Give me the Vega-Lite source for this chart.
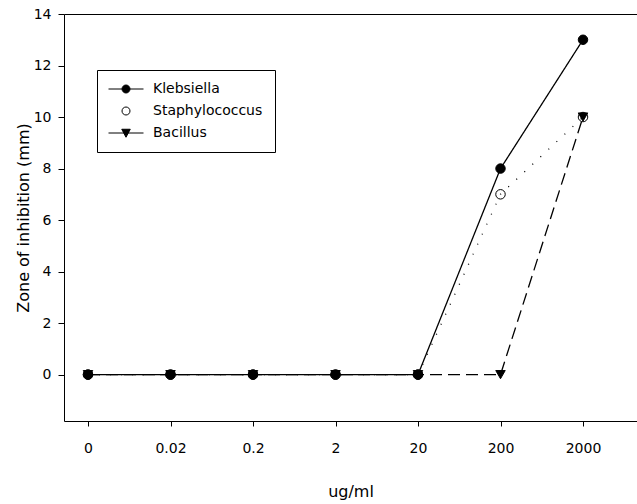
{
  "$schema": "https://vega.github.io/schema/vega-lite/v6.json",
  "width": 573,
  "height": 407,
  "autosize": {"type": "none"},
  "padding": {"left": 64, "top": 14, "right": 0, "bottom": 83},
  "background": "white",
  "config": {
    "view": {"stroke": null},
    "font": "DejaVu Sans",
    "axis": {
      "domainColor": "black",
      "tickColor": "black",
      "labelColor": "black",
      "titleColor": "black",
      "grid": false,
      "labelFontSize": 14,
      "titleFontSize": 16,
      "titleFontWeight": "normal",
      "domainWidth": 1,
      "tickWidth": 1
    },
    "legend": {
      "orient": "none",
      "legendX": 33,
      "legendY": 56,
      "padding": 12,
      "strokeColor": "black",
      "fillColor": "white",
      "labelFontSize": 14,
      "labelColor": "black",
      "labelOffset": 20,
      "symbolOffset": 10,
      "rowPadding": 8,
      "symbolSize": 100,
      "symbolStrokeColor": "black",
      "symbolStrokeWidth": 1,
      "symbolOpacity": 1
    }
  },
  "data": {
    "values": [
      {"series": "Klebsiella", "conc": "0", "zone": 0},
      {"series": "Klebsiella", "conc": "0.02", "zone": 0},
      {"series": "Klebsiella", "conc": "0.2", "zone": 0},
      {"series": "Klebsiella", "conc": "2", "zone": 0},
      {"series": "Klebsiella", "conc": "20", "zone": 0},
      {"series": "Klebsiella", "conc": "200", "zone": 8},
      {"series": "Klebsiella", "conc": "2000", "zone": 13},
      {"series": "Staphylococcus", "conc": "0", "zone": 0},
      {"series": "Staphylococcus", "conc": "0.02", "zone": 0},
      {"series": "Staphylococcus", "conc": "0.2", "zone": 0},
      {"series": "Staphylococcus", "conc": "2", "zone": 0},
      {"series": "Staphylococcus", "conc": "20", "zone": 0},
      {"series": "Staphylococcus", "conc": "200", "zone": 7},
      {"series": "Staphylococcus", "conc": "2000", "zone": 10},
      {"series": "Bacillus", "conc": "0", "zone": 0},
      {"series": "Bacillus", "conc": "0.02", "zone": 0},
      {"series": "Bacillus", "conc": "0.2", "zone": 0},
      {"series": "Bacillus", "conc": "2", "zone": 0},
      {"series": "Bacillus", "conc": "20", "zone": 0},
      {"series": "Bacillus", "conc": "200", "zone": 0},
      {"series": "Bacillus", "conc": "2000", "zone": 10}
    ]
  },
  "layer": [
    {
      "mark": {"type": "line", "color": "black", "strokeWidth": 1.3},
      "encoding": {
        "x": {
          "field": "conc", "type": "ordinal",
          "sort": ["0", "0.02", "0.2", "2", "20", "200", "2000"],
          "scale": {"type": "point", "padding": 0.4727, "align": 0.3077},
          "axis": {"orient": "bottom", "title": "ug/ml", "labelAngle": 0, "tickSize": 5, "labelPadding": 15, "titlePadding": 28}
        },
        "y": {
          "field": "zone", "type": "quantitative",
          "scale": {"domain": [-1.8, 14], "nice": false, "zero": false},
          "axis": {"title": "Zone of inhibition (mm)", "values": [0, 2, 4, 6, 8, 10, 12, 14], "tickSize": 6, "labelPadding": 7, "titlePadding": 2}
        },
        "strokeDash": {
          "field": "series", "type": "nominal",
          "scale": {"domain": ["Klebsiella", "Staphylococcus", "Bacillus"], "range": [[1, 0], [1, 10], [12, 6]]},
          "legend": null
        }
      }
    },
    {
      "mark": {"type": "point", "stroke": "black", "strokeWidth": 1, "size": 90, "opacity": 1},
      "encoding": {
        "x": {"field": "conc", "type": "ordinal", "sort": ["0", "0.02", "0.2", "2", "20", "200", "2000"], "axis": null},
        "y": {"field": "zone", "type": "quantitative"},
        "shape": {
          "field": "series", "type": "nominal",
          "scale": {"domain": ["Klebsiella", "Staphylococcus", "Bacillus"], "range": ["circle", "circle", "triangle-down"]},
          "legend": null
        },
        "fill": {
          "field": "series", "type": "nominal",
          "scale": {"domain": ["Klebsiella", "Staphylococcus", "Bacillus"], "range": ["black", "transparent", "black"]},
          "legend": null
        }
      }
    },
    {
      "mark": {"type": "point", "stroke": "black", "strokeWidth": 1, "opacity": 0},
      "encoding": {
        "x": {"field": "conc", "type": "ordinal", "sort": ["0", "0.02", "0.2", "2", "20", "200", "2000"],
              "axis": {"orient": "top", "labels": false, "ticks": false, "title": null, "domain": true}},
        "y": {"field": "zone", "type": "quantitative"},
        "shape": {
          "field": "series", "type": "nominal",
          "scale": {"domain": ["Klebsiella", "Staphylococcus", "Bacillus"],
                    "range": ["M-3.5,0H3.5M-0.8,0A0.8,0.8 0 1,0 0.8,0A0.8,0.8 0 1,0 -0.8,0Z",
                              "M-0.8,0A0.8,0.8 0 1,0 0.8,0A0.8,0.8 0 1,0 -0.8,0Z",
                              "M-3.5,0H3.5M-0.85,-0.75L0.85,-0.75L0,0.85Z"]},
          "legend": {"title": null, "encode": {"symbols": {"update": {"stroke": {"value": "black"}, "strokeWidth": {"value": 1}, "opacity": {"value": 1}}}}}
        },
        "fill": {
          "field": "series", "type": "nominal",
          "scale": {"domain": ["Klebsiella", "Staphylococcus", "Bacillus"], "range": ["black", "white", "black"]},
          "legend": {"title": null, "encode": {"symbols": {"update": {"stroke": {"value": "black"}, "strokeWidth": {"value": 1}, "opacity": {"value": 1}}}}}
        }
      }
    }
  ],
  "resolve": {
    "scale": {"shape": "independent", "fill": "independent"},
    "axis": {"x": "independent"}
  }
}
